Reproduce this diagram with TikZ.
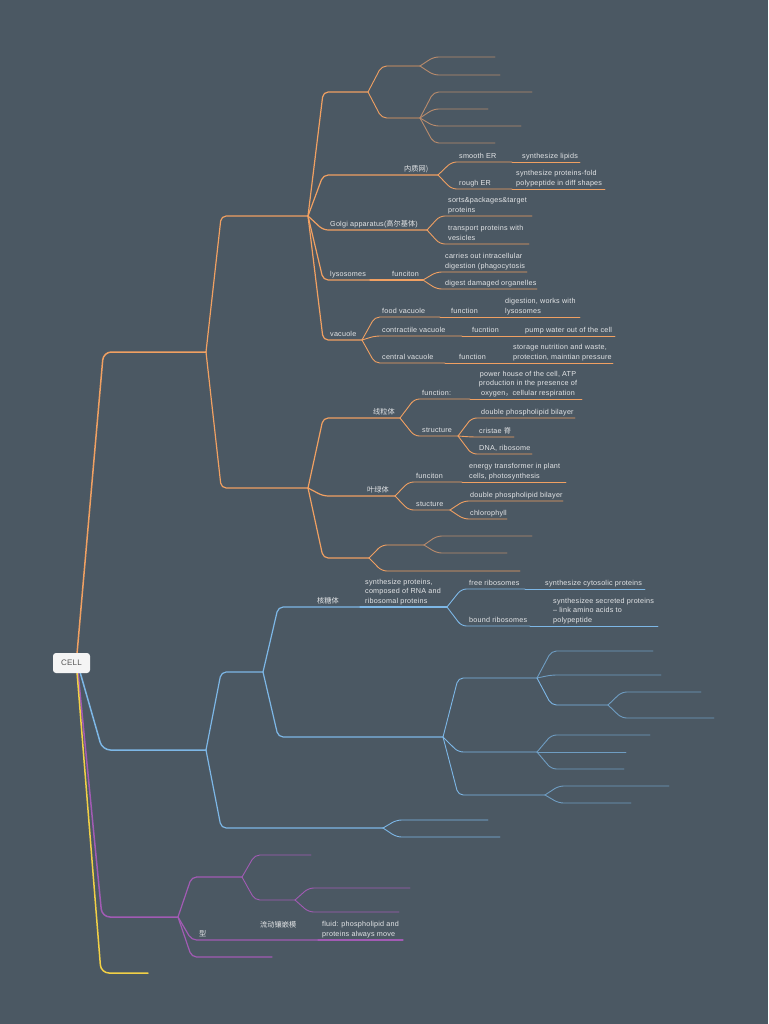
\documentclass[tikz,border=0pt]{standalone}
\usepackage{fontspec}
\setmainfont{Liberation Sans}[LetterSpace=3]
\newfontfamily\cjk{Noto Sans CJK SC}
\usetikzlibrary{calc}
\definecolor{bg}{HTML}{4B5863}
\definecolor{org}{HTML}{F0A062}
\definecolor{orgd}{HTML}{B98B6C}
\definecolor{blu}{HTML}{7DB7E6}
\definecolor{blud}{HTML}{6F9DC2}
\definecolor{pur}{HTML}{A25BB4}
\definecolor{yel}{HTML}{F2D046}
\definecolor{txt}{HTML}{E4E6E8}
\definecolor{cellfill}{HTML}{F4F4F4}
\definecolor{celltxt}{HTML}{555555}
% branch: style, parent, child, x start, y, x end
\newcommand\mmb[6]{\coordinate (#3s) at (#4,#5);\coordinate (#3) at (#6,#5);%
 \draw[#1] let \p1=(#2), \p2=(#3s) in (\p1) -- ({\x1+0.8*(\x2-\x1)},\y2) -- (#3);}
% continuation on same line: style, parent, child, x end, y
\newcommand\mmc[5]{\coordinate (#3) at (#4,#5);\draw[#1] (#2) -- (#3);}
% label: name, x, underline y, text
\newcommand\lb[4]{\node[lbl] (#1) at (#2,#3-1) {#4};}
\begin{document}
\begin{tikzpicture}[x=1pt,y=-1pt,line cap=round,line join=round,
  tk/.style={line width=1.5pt,rounded corners=8pt},
  t1/.style={line width=1.2pt,rounded corners=5pt},
  t2/.style={line width=0.9pt,rounded corners=5pt},
  lbl/.style={anchor=south west,inner sep=0pt,text=txt,align=left,
    font=\fontsize{7.2}{9.3}\selectfont,execute at end node=\strut},
  cellbox/.style={fill=cellfill,rounded corners=3pt,minimum width=37pt,
    minimum height=20pt,inner sep=0pt,text=celltxt,font=\fontsize{8}{9}\selectfont}]
\fill[bg] (0,0) rectangle (768,1024);
\useasboundingbox (0,0) rectangle (768,1024);
\coordinate (cellT) at (77,654);
\coordinate (cellB) at (80,672);
\coordinate (cellP) at (78,672);
\coordinate (cellY) at (77,672);
% ---------------- orange
\mmb{tk,draw=org}{cellT}{oA}{110}{352}{206}
\mmb{t1,draw=org}{oA}{oB}{225}{216}{308}
\mmb{t1,draw=org}{oA}{oC}{225}{488}{308}
\mmb{t1,draw=org}{oB}{o1}{327}{92}{368}
\mmb{t2,draw=org}{o1}{o11}{385}{66}{420}
\mmb{t2,draw=orgd}{o11}{o111}{437}{57}{495}
\mmb{t2,draw=orgd}{o11}{o112}{437}{75}{500}
\mmb{t2,draw=org}{o1}{o12}{385}{118}{420}
\mmb{t2,draw=orgd}{o12}{o121}{437}{92}{532}
\mmb{t2,draw=orgd}{o12}{o122}{437}{109}{488}
\mmb{t2,draw=orgd}{o12}{o123}{437}{126}{521}
\mmb{t2,draw=orgd}{o12}{o124}{437}{143}{495}
\mmb{t1,draw=org}{oB}{er}{327}{175}{438}
\mmb{t2,draw=org}{er}{ser}{455}{162}{512}
\mmc{t2,draw=org}{ser}{serf}{580}{162}
\mmb{t2,draw=org}{er}{rer}{455}{189}{512}
\mmc{t2,draw=org}{rer}{rerf}{605}{189}
\mmb{t1,draw=org}{oB}{golgi}{327}{230}{427}
\mmb{t2,draw=org}{golgi}{g1}{443}{216}{532}
\mmb{t2,draw=org}{golgi}{g2}{443}{244}{529}
\mmb{t1,draw=org}{oB}{lys}{327}{280}{370}
\mmc{t1,draw=org}{lys}{lysf}{423}{280}
\mmb{t2,draw=org}{lysf}{l1}{440}{272}{527}
\mmb{t2,draw=org}{lysf}{l2}{440}{289}{537}
\mmb{t1,draw=org}{oB}{vac}{327}{340}{362}
\mmb{t2,draw=org}{vac}{fv}{378}{317}{440}
\mmc{t2,draw=org}{fv}{fvf}{495}{317}
\mmc{t2,draw=org}{fvf}{fvd}{580}{317}
\mmb{t2,draw=org}{vac}{cv}{378}{336}{462}
\mmc{t2,draw=org}{cv}{cvf}{515}{336}
\mmc{t2,draw=org}{cvf}{cvp}{615}{336}
\mmb{t2,draw=org}{vac}{cev}{378}{363}{445}
\mmc{t2,draw=org}{cev}{cevf}{505}{363}
\mmc{t2,draw=org}{cevf}{cevs}{613}{363}
\mmb{t1,draw=org}{oC}{mito}{327}{418}{400}
\mmb{t2,draw=org}{mito}{mf}{418}{399}{470}
\mmc{t2,draw=org}{mf}{mff}{582}{399}
\mmb{t2,draw=org}{mito}{ms}{418}{436}{458}
\mmb{t2,draw=org}{ms}{m1}{475}{418}{575}
\mmb{t2,draw=org}{ms}{m2}{475}{437}{514}
\mmb{t2,draw=org}{ms}{m3}{475}{454}{532}
\mmb{t1,draw=org}{oC}{chl}{327}{496}{395}
\mmb{t2,draw=org}{chl}{cf}{412}{482}{462}
\mmc{t2,draw=org}{cf}{cff}{566}{482}
\mmb{t2,draw=org}{chl}{cs}{412}{510}{450}
\mmb{t2,draw=org}{cs}{c1}{467}{501}{563}
\mmb{t2,draw=org}{cs}{c2}{467}{519}{507}
\mmb{t1,draw=org}{oC}{o3}{327}{558}{369}
\mmb{t2,draw=org}{o3}{o31}{385}{545}{424}
\mmb{t2,draw=orgd}{o31}{o311}{440}{536}{532}
\mmb{t2,draw=orgd}{o31}{o312}{440}{553}{507}
\mmb{t2,draw=org}{o3}{o32}{385}{571}{520}
% ---------------- blue
\mmb{tk,draw=blu}{cellB}{bA}{108}{750}{206}
\mmb{t1,draw=blu}{bA}{bB}{225}{672}{263}
\mmb{t1,draw=blu}{bA}{bC}{225}{828}{383}
\mmb{t2,draw=blu}{bC}{bC1}{400}{820}{488}
\mmb{t2,draw=blu}{bC}{bC2}{400}{837}{500}
\mmb{t1,draw=blu}{bB}{rib}{282}{607}{360}
\mmc{t1,draw=blu}{rib}{ribd}{447}{607}
\mmb{t2,draw=blu}{ribd}{fr}{465}{589}{525}
\mmc{t2,draw=blu}{fr}{frs}{645}{589}
\mmb{t2,draw=blu}{ribd}{br}{465}{626}{530}
\mmc{t2,draw=blu}{br}{brs}{658}{626}
\mmb{t1,draw=blu}{bB}{bD}{282}{737}{443}
\mmb{t2,draw=blu}{bD}{d1}{462}{678}{537}
\mmb{t2,draw=blud}{d1}{d11}{555}{651}{653}
\mmb{t2,draw=blud}{d1}{d12}{555}{675}{661}
\mmb{t2,draw=blu}{d1}{d13}{555}{705}{608}
\mmb{t2,draw=blud}{d13}{d131}{625}{692}{701}
\mmb{t2,draw=blud}{d13}{d132}{625}{718}{714}
\mmb{t2,draw=blu}{bD}{d2}{462}{752}{537}
\mmb{t2,draw=blud}{d2}{d21}{555}{735}{650}
\mmc{t2,draw=blud}{d2}{d22}{626}{752}
\mmb{t2,draw=blud}{d2}{d23}{555}{769}{624}
\mmb{t2,draw=blu}{bD}{d3}{462}{795}{545}
\mmb{t2,draw=blud}{d3}{d31}{562}{786}{669}
\mmb{t2,draw=blud}{d3}{d32}{562}{803}{631}
% ---------------- purple
\mmb{tk,draw=pur}{cellP}{pA}{108}{917}{178}
\mmb{t1,draw=pur}{pA}{p1}{195}{877}{242}
\mmb{t2,draw=pur}{p1}{p11}{258}{855}{311}
\mmb{t2,draw=pur}{p1}{p12}{258}{900}{295}
\mmb{t2,draw=pur}{p12}{p121}{312}{888}{410}
\mmb{t2,draw=pur}{p12}{p122}{312}{912}{399}
\mmb{t1,draw=pur}{pA}{p2}{195}{940}{318}
\mmc{t1,draw=pur}{p2}{p2f}{403}{940}
\mmb{t1,draw=pur}{pA}{p3}{195}{957}{272}
% ---------------- yellow
\mmb{tk,draw=yel}{cellY}{yA}{107}{973}{148}
% ---------------- root
\node[cellbox] (cell) at (71.5,663) {CELL};
% ---------------- labels orange
\lb{tER}{404}{175}{{\cjk 内质网)}}
\lb{tSER}{459}{162}{smooth ER}
\lb{tSERf}{522}{162}{synthesize lipids}
\lb{tRER}{459}{189}{rough ER}
\lb{tRERf}{516}{189}{synthesize proteins-fold\\polypeptide in diff shapes}
\lb{tG}{330}{230}{Golgi apparatus({\cjk 高尔基体})}
\lb{tG1}{448}{216}{sorts\&packages\&target\\proteins}
\lb{tG2}{448}{244}{transport proteins with\\vesicles}
\lb{tL}{330}{280}{lysosomes}
\lb{tLf}{392}{280}{funciton}
\lb{tL1}{445}{272}{carries out intracellular\\digestion (phagocytosis}
\lb{tL2}{445}{289}{digest damaged organelles}
\lb{tV}{330}{340}{vacuole}
\lb{tFV}{382}{317}{food vacuole}
\lb{tFVf}{451}{317}{function}
\lb{tFVd}{505}{317}{digestion, works with\\lysosomes}
\lb{tCV}{382}{336}{contractile vacuole}
\lb{tCVf}{472}{336}{fucntion}
\lb{tCVp}{525}{336}{pump water out of the cell}
\lb{tCEV}{382}{363}{central vacuole}
\lb{tCEVf}{459}{363}{function}
\lb{tCEVs}{513}{363}{storage nutrition and waste,\\protection, maintian pressure}
\lb{tM}{373}{418}{{\cjk 线粒体}}
\lb{tMf}{422}{399}{function:}
\node[lbl,anchor=south,align=center] (tMff) at (528,398) {power house of the cell, ATP\\production in the presence of\\oxygen{\cjk ，}cellular respiration};
\lb{tMs}{422}{436}{structure}
\lb{tM1}{481}{418}{double phospholipid bilayer}
\lb{tM2}{479}{437}{cristae {\cjk 脊}}
\lb{tM3}{479}{454}{DNA, ribosome}
\lb{tC}{367}{496}{{\cjk 叶绿体}}
\lb{tCf}{416}{482}{funciton}
\lb{tCff}{469}{482}{energy transformer in plant\\cells, photosynthesis}
\lb{tCs}{416}{510}{stucture}
\lb{tC1}{470}{501}{double phospholipid bilayer}
\lb{tC2}{470}{519}{chlorophyll}
% ---------------- labels blue
\lb{tR}{317}{607}{{\cjk 核糖体}}
\lb{tRd}{365}{607}{synthesize proteins,\\composed of RNA and\\ribosomal proteins}
\lb{tFR}{469}{589}{free ribosomes}
\lb{tFRs}{545}{589}{synthesize cytosolic proteins}
\lb{tBR}{469}{626}{bound ribosomes}
\lb{tBRs}{553}{626}{synthesizee secreted proteins\\– link amino acids to\\polypeptide}
% ---------------- labels purple
\lb{tP2}{199}{940}{{\cjk 型}}
\lb{tP2a}{260}{931}{{\cjk 流动镶嵌模}}
\lb{tP2f}{322}{940}{fluid: phospholipid and\\proteins always move}
\end{tikzpicture}
\end{document}
